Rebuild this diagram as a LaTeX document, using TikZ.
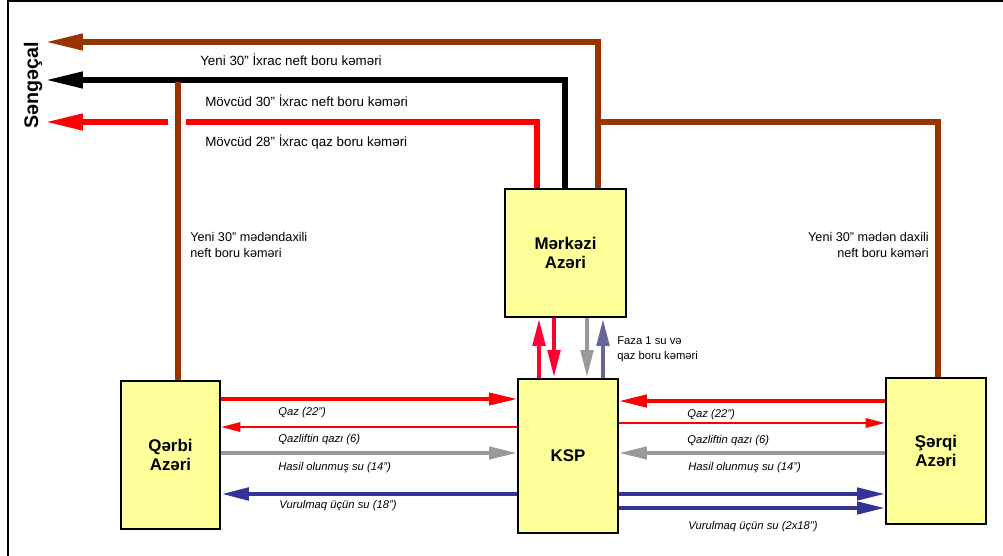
\documentclass[tikz,border=0pt]{standalone}
\usepackage{fontspec}
\setmainfont{Liberation Sans}
\usetikzlibrary{arrows.meta}
\definecolor{pipebrown}{HTML}{993300}
\definecolor{platyellow}{HTML}{FFFF99}
\definecolor{watergray}{HTML}{999999}
\definecolor{injblue}{HTML}{333399}
\definecolor{fazablue}{HTML}{666699}
\definecolor{vred}{HTML}{FF0033}

\begin{document}
\begin{tikzpicture}[
    x=0.025cm, y=-0.025cm,
    platform/.style={rectangle, draw, line width=1pt, fill=platyellow, align=center, font=\bfseries\fontsize{12}{14}\selectfont},
    pipetext/.style={font=\fontsize{9}{11}\selectfont, inner sep=0pt},
    flowtext/.style={font=\itshape\fontsize{8}{10}\selectfont, inner sep=0pt, anchor=west},
    export/.style={line width=4.2pt, -{Triangle[length=27pt, width=11pt]}},
    field/.style={line width=4.6pt, pipebrown},
    flow/.style={line width=3pt, -{Triangle[length=20pt, width=8.5pt]}},
    thinflow/.style={line width=2pt, red, -{Triangle[length=14pt, width=6.5pt]}}
]
    \useasboundingbox (0,0) rectangle (1003,556);
    \draw[line width=1.2pt] (8,556) -- (8,1) -- (1003,1);

    % platforms
    \node[platform, minimum width=3.025cm, minimum height=3.2cm] (merkezi) at (565.5,253) {Mərkəzi\\Azəri};
    \node[platform, minimum width=2.5cm, minimum height=3.85cm] (ksp) at (568,456) {KSP};
    \node[platform, minimum width=2.475cm, minimum height=3.7cm] (qerbi) at (170.5,455) {Qərbi\\Azəri};
    \node[platform, minimum width=2.5cm, minimum height=3.65cm] (serqi) at (936,451) {Şərqi\\Azəri};

    \node[rotate=90, font=\bfseries\fontsize{14}{16}\selectfont] (sengecal) at (33,85) {Səngəçal};

    % export lines to Sengachal
    \coordinate (sg1) at (45,42);
    \coordinate (sg2) at (45,80);
    \coordinate (sg3) at (45,122);
    \coordinate (gapE) at (186,122);
    \coordinate (gapW) at (168,122);
    \draw[export, pipebrown] (598,0 |- merkezi.north) |- (sg1);
    \draw[export, black] (565,0 |- merkezi.north) |- (sg2);
    \draw[line width=4.2pt, red] (537,0 |- merkezi.north) |- (gapE);
    \draw[export, red] (gapW) -- (sg3);

    % infield oil lines
    \coordinate (wjunc) at (178,82);
    \coordinate (ejunc) at (598,122);
    \draw[field] (wjunc) -- (178,0 |- qerbi.north);
    \draw[field] (ejunc) -| (938,0 |- serqi.north);

    \node[pipetext, anchor=west, font=\fontsize{9.5}{11}\selectfont] (t1) at (200,60) {Yeni 30” İxrac neft boru kəməri};
    \node[pipetext, anchor=west, font=\fontsize{9.5}{11}\selectfont] (t2) at (205,101) {Mövcüd 30” İxrac neft boru kəməri};
    \node[pipetext, anchor=west, font=\fontsize{9.5}{11}\selectfont] (t3) at (205,142) {Mövcüd 28” İxrac qaz boru kəməri};
    \node[pipetext, anchor=west, align=left] (t4) at (190,245) {Yeni 30” mədəndaxili\\neft boru kəməri};
    \node[pipetext, anchor=east, align=right] (t5) at (929,245) {Yeni 30” mədən daxili\\neft boru kəməri};
    \node[pipetext, anchor=west, align=left, font=\fontsize{8}{10.5}\selectfont] (t6) at (617,349) {Faza 1 su və\\qaz boru kəməri};

    % Merkezi - KSP
    \draw[flow, line width=3.5pt, vred] (539,0 |- ksp.north) -- (539,0 |- merkezi.south);
    \draw[flow, line width=3.5pt, vred] (554,0 |- merkezi.south) -- (554,0 |- ksp.north);
    \draw[flow, line width=3.5pt, watergray] (587,0 |- merkezi.south) -- (587,0 |- ksp.north);
    \draw[flow, line width=3.5pt, fazablue] (603,0 |- ksp.north) -- (603,0 |- merkezi.south);

    % Qerbi - KSP
    \draw[flow, line width=2.6pt, red] (qerbi.east |- 0,399) -- (ksp.west |- 0,399);
    \draw[thinflow] (ksp.west |- 0,427) -- (qerbi.east |- 0,427);
    \draw[flow, watergray] (qerbi.east |- 0,453) -- (ksp.west |- 0,453);
    \draw[flow, line width=3.5pt, injblue] (ksp.west |- 0,494) -- (qerbi.east |- 0,494);
    \node[flowtext] (w1) at (278,413) {Qaz (22”)};
    \node[flowtext] (w2) at (278,440) {Qazliftin qazı (6)};
    \node[flowtext] (w3) at (278,468) {Hasil olunmuş su (14”)};
    \node[flowtext] (w4) at (279,506) {Vurulmaq üçün su (18”)};

    % Serqi - KSP
    \draw[flow, red] (serqi.west |- 0,401) -- (ksp.east |- 0,401);
    \draw[thinflow] (ksp.east |- 0,423) -- (serqi.west |- 0,423);
    \draw[flow, watergray] (serqi.west |- 0,453) -- (ksp.east |- 0,453);
    \draw[flow, injblue] (ksp.east |- 0,494) -- (serqi.west |- 0,494);
    \draw[flow, injblue] (ksp.east |- 0,508) -- (serqi.west |- 0,508);
    \node[flowtext] (e1) at (687,415) {Qaz (22”)};
    \node[flowtext] (e2) at (687,441) {Qazliftin qazı (6)};
    \node[flowtext] (e3) at (688,468) {Hasil olunmuş su (14”)};
    \node[flowtext] (e4) at (688,527) {Vurulmaq üçün su (2x18”)};
\end{tikzpicture}
\end{document}
